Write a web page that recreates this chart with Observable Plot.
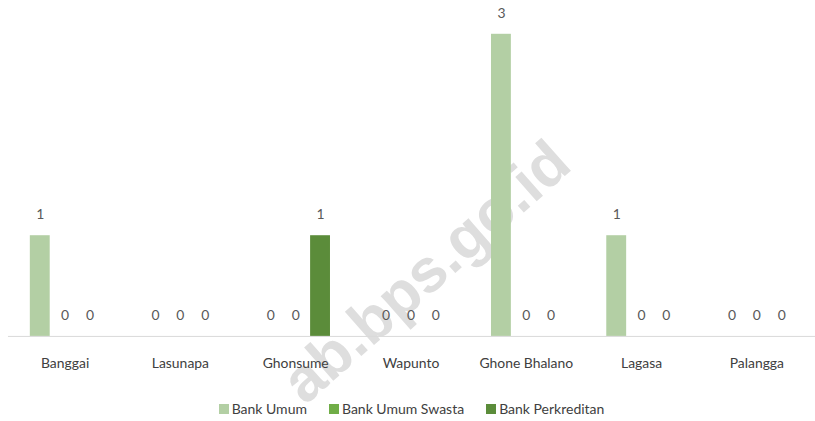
<!DOCTYPE html>
<html><head><meta charset="utf-8">
<script src="https://cdn.jsdelivr.net/npm/d3@7"></script>
<script src="https://cdn.jsdelivr.net/npm/@observablehq/plot@0.6"></script>
<style>
body{margin:0;background:#fff;font-family:Lato,"Open Sans",sans-serif;}
#wrap{position:relative;width:815px;height:421px;overflow:hidden;}
#wm{position:absolute;left:0;top:0;}
#chart{position:absolute;left:0;top:0;}
#legend{position:absolute;left:0;top:400px;width:815px;display:flex;justify-content:center;gap:22px;font-size:14px;color:#404040;padding-left:8px;box-sizing:border-box;}
#legend .item{display:flex;align-items:center;gap:3px;}
#legend .sw{width:10px;height:10px;display:inline-block;}
</style></head>
<body><div id="wrap">
<svg id="wm" width="815" height="421"><text transform="translate(574,168) rotate(-41.5)" text-anchor="end" font-family="'Liberation Sans', Arial, sans-serif" font-weight="bold" font-size="61" fill="#dedede">ab.bps.go.id</text></svg>
<div id="chart"></div><div id="legend"></div></div>
<script>
const categories = ["Banggai","Lasunapa","Ghonsume","Wapunto","Ghone Bhalano","Lagasa","Palangga"];
const seriesNames = ["Bank Umum","Bank Umum Swasta","Bank Perkreditan"];
const bankUmum = [1,0,0,0,3,1,0];
const bankUmumSwasta = [0,0,0,0,0,0,0];
const bankPerkreditan = [0,0,1,0,0,0,0];
const colors = ["#b3cfa4","#70ad47","#5b8c3a"];

const seriesValues = [bankUmum, bankUmumSwasta, bankPerkreditan];
const data = [];
categories.forEach((c, i) => seriesNames.forEach((s, j) => data.push({category: c, series: s, value: seriesValues[j][i]})));

const plot = Plot.plot({
  width: 820, height: 385,
  marginTop: 34, marginBottom: 47, marginLeft: 7, marginRight: 0,
  style: {fontSize: "14px", fontFamily: "Lato, 'Open Sans', sans-serif", color: "#404040", background: "transparent"},
  fx: {domain: categories, paddingInner: 0.31, paddingOuter: 0.155, label: null, axis: "bottom", tickSize: 0, tickPadding: 22},
  x: {domain: seriesNames, padding: 0.2, axis: null},
  y: {domain: [0, 3], axis: null},
  color: {domain: seriesNames, range: colors},
  marks: [
    Plot.barY(data, {fx: "category", x: "series", y: "value", fill: "series"}),
    Plot.text(data, {fx: "category", x: "series", y: "value", text: d => String(d.value), dy: -21, fill: "#595959", fontSize: 14})
  ]
});
document.getElementById("chart").appendChild(plot);
const y0 = plot.scale("y").apply(0);
d3.select(plot).append("line")
  .attr("x1", 8).attr("x2", 820).attr("y1", y0 + 0.5).attr("y2", y0 + 0.5)
  .attr("stroke", "#d9d9d9").attr("stroke-width", 1);

const legend = d3.select("#legend");
seriesNames.forEach((s, i) => {
  const it = legend.append("div").attr("class", "item");
  it.append("span").attr("class", "sw").style("background", colors[i]);
  it.append("span").text(s);
});
</script></body></html>
